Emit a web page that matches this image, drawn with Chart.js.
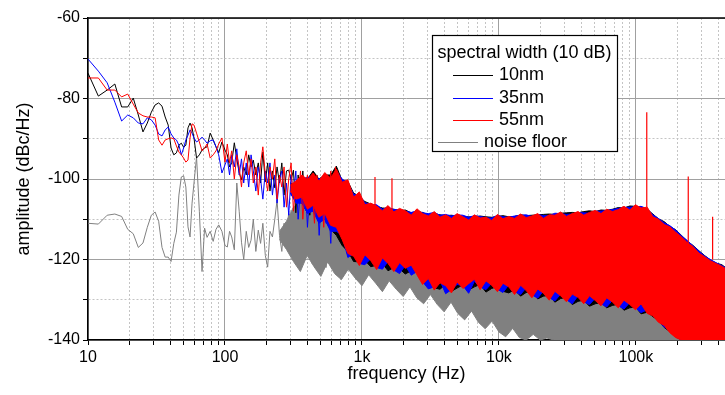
<!DOCTYPE html>
<html>
<head>
<meta charset="utf-8">
<script src="https://cdn.jsdelivr.net/npm/chart.js@4"></script>
<style>
  html, body { margin: 0; padding: 0; background: #fff; }
  #wrap { position: relative; width: 725px; height: 395px; }
</style>
</head>
<body>
<div id="wrap"><canvas id="spectrumChart"></canvas></div>
<script>
// series names and colours (legend order)
const seriesNames = ["10nm", "35nm", "55nm", "noise floor"];
const seriesColors = ["#000000", "#0000ff", "#ff0000", "#808080"];

// axis ticks
const xTickValues = [10, 100, 1000, 10000, 100000];
const xTickLabels = ["10", "100", "1k", "10k", "100k"];
const xMin = 10;
const xMax = 447000;
const yTickValues = [-140, -120, -100, -80, -60];

// low frequency part, read trace by trace (Hz)
const lineFreq = [10, 11.9, 13.8, 15.7, 17.6, 19.5, 21.4, 23.3, 25.2, 27.1, 29, 30.9, 32.8, 34.7, 36.6, 38.5, 40.4, 42.3, 44.2, 46.1, 48, 49.9, 51.8, 53.7, 55.6, 57.5, 59.4,
  62, 65, 68, 71, 74, 78, 82, 86, 90, 95, 100,
  104, 108, 112, 117, 122, 127, 132, 137, 143, 149, 155, 161, 168, 175, 182, 189, 197, 205, 213, 222, 231, 240, 250, 260, 270, 281, 292, 304, 316, 329,
  342, 356, 370, 385, 400, 416, 433, 450, 468, 487, 506, 526, 547, 569, 592, 616, 640, 666, 693, 720, 750];

const line10nm = [-73.7, -79.4, -77.9, -76.4, -82.1, -82.1, -79.9, -84.1, -88.3, -86.1, -83.4, -81.6, -81.1, -81.9, -84.6, -86.6, -92.3, -94, -93.5, -91.6, -91.1, -92.1, -91.6, -87.3, -86.1, -87.3, -89.8,
  -94.8, -94, -92.8, -92.3, -92, -88.6, -90.3, -92, -93.5, -90.8, -92.8,
  -94, -97, -96, -91, -95, -98.5, -100.2, -97, -99, -94, -97, -95.3, -99, -96, -101, -93.3, -100.7, -96, -103, -98, -102.2, -97, -101, -96, -104, -98, -97.8, -100.2, -97.8, -108.4,
  -99, -104, -98, -106, -100, -109, -101, -104, -99, -110, -102, -106, -100, -111, -103, -108, -101, -112, -104, -109, -103];

const line35nm = [-70.2, -73.2, -76.1, -80.9, -85.6, -84.1, -84.8, -86.1, -86.3, -84.8, -85.3, -86.6, -88.8, -89.3, -87.8, -87.1, -88.8, -89.8, -90.3, -91.6, -94, -92.3, -90.3, -89.1, -87.8, -88.6, -89.8,
  -90.8, -90.3, -89.6, -90.3, -91.1, -90.5, -90.3, -92, -94, -98.5, -96.5,
  -95, -99, -94, -97, -92.5, -99, -95, -101, -96, -102, -94, -98, -103, -97, -100, -105, -98, -101, -96, -104, -99, -106, -100, -98, -107, -101, -109, -99, -104, -98,
  -110, -102, -106, -100, -112, -103, -99, -108, -102, -114, -104, -100, -111, -105, -116, -103, -109, -104, -113, -106, -110];

const line55nm = [-74.9, -74.9, -77.9, -77.9, -79.6, -78.9, -81.4, -83.6, -84.3, -84.6, -84.6, -84.8, -90.3, -91.6, -90.3, -90, -89.8, -90, -91.8, -93.3, -94, -94.8, -95.8, -95.3, -89.8, -86.3, -86.6,
  -88.6, -90.8, -93, -92.3, -91.3, -94.8, -94, -93, -91.3, -89.8, -95.8,
  -91.3, -96, -93, -100, -94, -97, -102, -96, -93, -99, -95, -101, -97, -104, -96, -92, -99, -103, -97, -100, -95, -105, -99, -102, -97, -107, -100, -96, -108, -101,
  -104, -98, -110, -102, -99, -107, -103, -111, -99, -105, -101, -112, -100, -106, -98, -110, -97, -108, -101, -113, -104];

const lineNoise = [-111, -111.2, -109, -108.7, -109.3, -112.5, -113.6, -117, -115.9, -112, -109, -108.2, -110.5, -117, -119.4, -119.4, -120.5, -116, -113.2, -104, -99.5, -99.2, -102, -111.9, -114.4, -106, -101,
  -94.5, -108, -123, -112.2, -114.5, -113, -115.5, -112.5, -111.4, -113, -116.5,
  -116.9, -113, -114.4, -117.6, -101, -108, -115.7, -120, -113, -117, -115.2, -110, -118, -112.7, -116, -111, -119, -121.9, -113, -114.4, -110, -105.2, -114, -118, -111, -116, -108, -119, -112, -117,
  -110, -120, -113, -109, -118, -112, -121, -110, -116, -108, -119, -113, -122, -111, -117, -107, -118, -113, -121, -110, -116];

// dense part: upper and lower edge of each noisy band (Hz)
const bandFreq = [300, 330, 365, 400, 440, 485, 535, 590,
  650, 716, 789, 869, 957, 1050, 1160, 1280, 1410, 1550, 1710, 1880, 2070, 2290, 2520, 2770, 3050, 3370, 3710, 4080,
  4500, 4950, 5460, 6010, 6620, 7290, 8040, 8850, 9750, 10700, 11800, 13000, 14400, 15800, 17400, 19200, 21100, 23300, 25600, 28200,
  31100, 34300, 37800, 41600, 45800, 50500, 55600, 61200, 67500, 74300, 81800, 90200, 99300, 109000, 121000, 133000, 146000, 161000, 177000, 195000,
  215000, 237000, 261000, 288000, 317000, 349000, 385000, 424000, 447000];

const top10nm = [-101, -101.5, -99.5, -100, -98, -100, -99, -99,
  -96.8, -100.4, -100.6, -103.5, -104.3, -105.6, -106.2, -106.8, -107.2, -107.3, -107.5, -107.9, -107.7, -108.4, -108.2, -108.3, -108.9, -108.6, -108.9, -109.1,
  -109, -109.2, -109.3, -109.4, -109.5, -109.2, -109.4, -109.5, -109.3, -109.1, -109.4, -109.3, -108.9, -109.1, -109, -108.9, -108.8, -108.7, -108.8, -108.5,
  -108.4, -108.3, -108.4, -108.1, -107.9, -108.1, -107.7, -107.8, -107.5, -107.1, -107.2, -106.7, -106.8, -106.9, -107.6, -108.7, -109.9, -110.6, -111.8, -112.6,
  -114, -115.4, -116.5, -117.8, -119, -120.1, -120.9, -121.3, -121.9];
const bottom10nm = [-103.5, -105.5, -106, -108.5, -107.5, -110.5, -110, -112.5,
  -114, -116.5, -118, -120.5, -120.6, -120.2, -121.8, -121.4, -121, -122.8, -122, -122.3, -123.6, -122.8, -123.2, -125.8, -126.1, -127, -127.4, -126.2,
  -127.9, -127.1, -126.3, -127.6, -126.8, -126.2, -128.1, -127.2, -126.7, -127.9, -128.3, -127.5, -129.1, -128.2, -128, -129.8, -129.1, -128.9, -130.6, -129.7,
  -129.4, -131.2, -130.4, -130.1, -131.6, -131, -130.7, -132, -131.4, -131.1, -132.6, -132, -131.8, -133.5, -133.1, -134.2, -135.1, -136.9, -137.9, -139.2,
  -140, -140, -140, -140, -140, -140, -140, -140, -140];

const top35nm = [-102, -101, -100, -99.6, -99.5, -100, -99.5, -100,
  -98, -100, -101, -103.8, -104, -105.9, -106.3, -106.4, -107.5, -107, -107.6, -107.6, -108, -108.3, -107.9, -108.4, -108.6, -108.3, -109, -108.8,
  -109.2, -108.9, -109, -109.5, -109.1, -109.3, -109.6, -109.7, -109, -109.4, -109.5, -109.2, -109, -108.9, -109.3, -108.8, -109.1, -109.1, -108.5, -108.6,
  -108.8, -108.7, -108.3, -108.4, -108.5, -108, -108, -107.8, -107.6, -107.3, -107.1, -107, -106.9, -106.8, -107.4, -108.9, -109.8, -110.9, -111.6, -112.7,
  -114.1, -115.3, -116.6, -117.9, -119.1, -120, -120.8, -121.5, -122];
const bottom35nm = [-103.5, -106, -106, -108.5, -108, -111, -110, -113,
  -113, -114, -119.5, -118.5, -121, -121.3, -119.8, -122, -122.4, -120.5, -122.6, -123.5, -121.5, -123.9, -123, -125.5, -127.3, -126.8, -125.2, -128.5,
  -127.5, -126.2, -126.5, -128.4, -125.4, -126.8, -127.5, -125.9, -127.4, -128.2, -126.3, -128, -128.7, -127, -128.8, -129.6, -127.8, -129.5, -130.3, -128.6,
  -130, -131, -129, -130.5, -131.2, -129.6, -131, -131.8, -130.1, -131.5, -132.3, -130.7, -132, -133.2, -132.5, -133.8, -135.2, -136.8, -137.6, -139,
  -140, -140, -140, -140, -140, -140, -140, -140, -140];

const top55nm = [-101.5, -100.5, -99, -100.2, -98.5, -100.5, -98.4, -99.8,
  -97.5, -100.8, -100.2, -104.5, -103.2, -106.4, -106, -106.7, -107.9, -106.6, -108.2, -107.3, -107.9, -109, -107.4, -108.6, -109.2, -108.1, -109.5, -108.9,
  -109.8, -108.6, -109.4, -110.2, -108.9, -109.7, -109.5, -110.3, -108.8, -109.9, -109.3, -109.8, -108.7, -109.6, -109.2, -108.6, -109.8, -108.9, -109, -108.2,
  -109.3, -108.6, -108.1, -109, -108.3, -107.8, -108.6, -107.5, -108.1, -107.6, -106.8, -107.7, -106.4, -107.2, -107, -109.4, -110, -111.3, -111.9, -113.2,
  -114.4, -115.8, -116.8, -118.4, -119.3, -120.3, -121, -121.7, -122.2];
const bottom55nm = [-103, -105, -104.5, -107.5, -106.5, -109.5, -108.5, -111.5,
  -112, -115, -118.5, -119.2, -121.5, -118.8, -120.3, -122.5, -119.6, -121, -123, -120.8, -122.2, -121.4, -123.8, -126.2, -124.7, -127.6, -125.8, -126.5,
  -128.3, -125.6, -127.2, -126, -124.9, -127.5, -125.3, -126.4, -128, -125.9, -126.8, -128.7, -126.4, -127.7, -129.5, -127.3, -128.4, -130.1, -127.9, -129,
  -130.5, -128.6, -129.4, -131, -129, -130.2, -131.5, -129.5, -130.6, -132, -130.1, -131.2, -132.5, -131, -133.4, -134, -135.6, -136.4, -138.2, -139.4,
  -140, -140, -140, -140, -140, -140, -140, -140, -140];

const noiseBandFreq = [250, 281, 316, 355, 398, 447, 501, 562, 631, 708, 794, 891, 1000, 1120, 1260, 1410, 1580, 1780, 2000, 2240,
  2510, 2820, 3160, 3550, 3980, 4470, 5010, 5620, 6310, 7080, 7940, 8910, 10000, 11200, 12600, 14100, 15800, 17800, 20000, 22400,
  25100, 28200, 31600, 35500, 39800, 44700, 50100, 56200, 63100, 70800, 79400, 89100, 100000, 112000, 126000, 141000, 158000, 178000, 200000, 215000];
const topNoise = [-113, -110.5, -107, -105.5, -108.8, -106.5, -110, -105.2, -107.6, -106.8, -109.2, -108.1, -110.6, -111.5, -109.8, -112.7, -112, -113.9, -112.6, -114.8,
  -114.3, -115.6, -116.2, -115.9, -117.8, -118.6, -118.1, -120.2, -120.9, -121.3, -121.8, -122.9, -123.2, -123.8, -124.4, -124.1, -124.9, -125.3, -124.8, -125.6,
  -125.4, -126, -125.7, -126.3, -126.1, -126.5, -126.2, -126.8, -126.6, -127.1, -126.9, -127.4, -127.3, -127.8, -128.1, -128.9, -129.7, -130.8, -132, -140];
const bottomNoise = [-115, -117.5, -120.5, -123, -119, -121.8, -124.2, -120.6, -123.5, -125, -122.4, -124.6, -126.5, -123.8, -125.9, -128, -125.3, -127.4, -129.2, -126.8,
  -129.5, -131, -128.7, -131.2, -133, -130.6, -133.4, -135, -132.8, -135.6, -137.2, -135.3, -138, -139.2, -137.1, -139.4, -140, -138.6, -140, -139.5,
  -140, -140, -140, -140, -140, -140, -140, -140, -140, -140, -140, -140, -140, -140, -140, -140, -140, -140, -140, -140];

// narrow lines standing out of the red band
const spikeFreq = [1245, 1656, 120000, 241000, 363000];
const spikeTop = [-99.5, -99.8, -83.4, -99.4, -109.4];
const spikeBase = [-107, -108, -107, -116, -120];

function toPoints(xs, ys) {
  return xs.map((x, i) => ({ x: x, y: ys[i] }));
}

const spikePoints = [];
spikeFreq.forEach((f, i) => {
  spikePoints.push({ x: f, y: spikeBase[i] }, { x: f, y: spikeTop[i] }, { x: f, y: null });
});

// one trace = low frequency line + filled band; lower "order" is drawn on top
function traceDatasets(k, line, lineX, bandX, top, bottom, order) {
  const color = seriesColors[k];
  return [
    { label: seriesNames[k], data: toPoints(lineX, line), borderColor: color, order: order },
    { label: seriesNames[k] + " band", data: toPoints(bandX, top), borderColor: color, backgroundColor: color, fill: "+1", order: order },
    { label: seriesNames[k] + " band low", data: toPoints(bandX, bottom), borderColor: color, order: order },
  ];
}

const datasets = [
  { label: "spikes", data: spikePoints, borderColor: seriesColors[2], borderWidth: 1.2, spanGaps: false, order: 0 },
  ...traceDatasets(2, line55nm, lineFreq, bandFreq, top55nm, bottom55nm, 1),
  ...traceDatasets(1, line35nm, lineFreq, bandFreq, top35nm, bottom35nm, 2),
  ...traceDatasets(0, line10nm, lineFreq, bandFreq, top10nm, bottom10nm, 3),
  ...traceDatasets(3, lineNoise, lineFreq, noiseBandFreq, topNoise, bottomNoise, 4),
];

const majorGrid = "#a0a0a0";
const minorGrid = "#c4c4c4";
const fontFamily = "'Liberation Sans', Arial, sans-serif";

// top frame line and the boxed legend
const frameAndLegend = {
  id: "frameAndLegend",
  afterDraw(chart) {
    const { ctx, chartArea } = chart;
    ctx.save();
    ctx.strokeStyle = "#000";
    ctx.lineWidth = 1.5;
    ctx.beginPath();
    ctx.moveTo(chartArea.left, chartArea.top);
    ctx.lineTo(chartArea.right, chartArea.top);
    ctx.stroke();

    const box = { x: 432.5, y: 35.5, w: 185, h: 116 };
    ctx.fillStyle = "#fff";
    ctx.fillRect(box.x, box.y, box.w, box.h);
    ctx.lineWidth = 1.2;
    ctx.strokeRect(box.x, box.y, box.w, box.h);

    ctx.font = "18px " + fontFamily;
    ctx.fillStyle = "#000";
    ctx.textBaseline = "middle";
    ctx.fillText("spectral width (10 dB)", box.x + 5, box.y + 18);

    const rowY = [75, 98, 120, 142];
    const sampleX = [453, 453, 453, 438];
    seriesNames.forEach((name, i) => {
      ctx.strokeStyle = seriesColors[i];
      ctx.lineWidth = 1;
      ctx.beginPath();
      ctx.moveTo(sampleX[i], rowY[i] + 0.5);
      ctx.lineTo(sampleX[i] + 40, rowY[i] + 0.5);
      ctx.stroke();
      ctx.fillStyle = "#000";
      ctx.fillText(name, sampleX[i] + 46, rowY[i]);
    });
    ctx.restore();
  },
};

const ctx = document.getElementById("spectrumChart").getContext("2d");
window.spectrumChart = new Chart(ctx, {
  type: "line",
  data: { datasets: datasets },
  options: {
    responsive: true,
    maintainAspectRatio: false,
    animation: false,
    events: [],
    layout: { padding: { top: 18, right: 0, bottom: 0, left: 0 } },
    elements: {
      point: { radius: 0 },
      line: { borderWidth: 1, tension: 0, fill: false },
    },
    plugins: {
      legend: { display: false },
      tooltip: { enabled: false },
    },
    scales: {
      x: {
        type: "logarithmic",
        min: xMin,
        max: xMax,
        afterBuildTicks(scale) {
          const ticks = [];
          for (let d = 10; d <= xMax; d *= 10) {
            for (let k = 1; k <= 9; k++) {
              if (d * k <= xMax) ticks.push({ value: d * k });
            }
          }
          scale.ticks = ticks;
        },
        afterFit(scale) { scale.height = 55; },
        ticks: {
          autoSkip: false,
          maxRotation: 0,
          padding: 3,
          color: "#000",
          font: { family: fontFamily, size: 16 },
          callback: (v) => {
            const i = xTickValues.indexOf(Math.round(v));
            return i >= 0 ? xTickLabels[i] : "";
          },
        },
        grid: {
          color: (c) => (c.tick && xTickValues.includes(Math.round(c.tick.value)) ? majorGrid : minorGrid),
          tickColor: "#000",
          tickLength: 5,
        },
        border: {
          color: "#000",
          width: 1.5,
          dash: (c) => (c.tick && !xTickValues.includes(Math.round(c.tick.value)) ? [2, 2] : []),
        },
        title: {
          display: true,
          text: "frequency (Hz)",
          color: "#000",
          font: { family: fontFamily, size: 18 },
          padding: { top: 0, bottom: 10 },
        },
      },
      y: {
        min: -140,
        max: -60,
        afterFit(scale) { scale.width = 88; },
        ticks: {
          stepSize: 10,
          padding: 3,
          color: "#000",
          font: { family: fontFamily, size: 16 },
          callback: (v) => (yTickValues.includes(v) ? String(v) : ""),
        },
        grid: {
          color: (c) => (c.tick && yTickValues.includes(c.tick.value) ? majorGrid : minorGrid),
          tickColor: "#000",
          tickLength: 5,
        },
        border: {
          color: "#000",
          width: 1.5,
          dash: (c) => (c.tick && !yTickValues.includes(c.tick.value) ? [2, 2] : []),
        },
        title: {
          display: true,
          text: "amplitude (dBc/Hz)",
          color: "#000",
          font: { family: fontFamily, size: 18 },
          padding: { top: 13, bottom: 0 },
        },
      },
    },
  },
  plugins: [frameAndLegend],
});
</script>
</body>
</html>
